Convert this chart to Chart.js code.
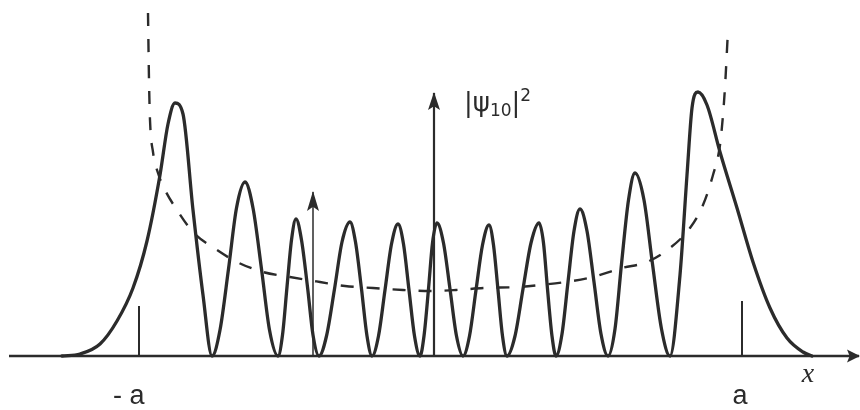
<!DOCTYPE html>
<html>
<head>
<meta charset="utf-8">
<script src="https://cdn.jsdelivr.net/npm/chart.js@4.4.1/dist/chart.umd.min.js"></script>
<style>
  html, body { margin: 0; padding: 0; background: #ffffff; }
  #wrap { width: 860px; height: 410px; }
</style>
</head>
<body>
<div id="wrap"><canvas id="c" width="860" height="410"></canvas></div>
<script>
// ---- data (arbitrary units; x = 0 at the |psi|^2 axis) ----
// |psi_10|^2 curve: positions and heights
const psiX = [-7.44,-7.08,-6.68,-6.34,-6.02,-5.74,-5.48,-5.32,-5.18,-5.02,-4.82,-4.62,-4.44,
  -4.28,-4.11,-3.95,-3.78,-3.62,-3.45,-3.29,-3.12,
  -3.03,-2.94,-2.85,-2.76,-2.65,-2.53,-2.42,-2.30,
  -2.15,-1.99,-1.84,-1.68,-1.57,-1.45,-1.34,-1.24,
  -1.11,-0.98,-0.85,-0.72,-0.61,-0.50,-0.39,-0.28,
  -0.20,-0.11,-0.03,0.06,0.19,0.32,0.45,0.58,
  0.71,0.84,0.97,1.10,1.19,1.28,1.37,1.46,
  1.62,1.78,1.94,2.10,2.19,2.27,2.36,2.44,
  2.56,2.68,2.80,2.92,3.06,3.20,3.34,3.48,
  3.62,3.75,3.89,4.02,4.20,4.37,4.55,4.72,
  4.92,5.06,5.16,5.28,5.46,5.72,6.06,6.38,6.72,7.06,7.38,7.56];
const psiY = [0,0.02,0.12,0.35,0.68,1.15,1.81,2.32,2.53,2.42,1.46,0.61,0,
  0.26,0.87,1.48,1.74,1.48,0.87,0.26,0,
  0.21,0.69,1.16,1.37,1.16,0.69,0.21,0,
  0.20,0.67,1.14,1.34,1.14,0.67,0.20,0,
  0.20,0.66,1.12,1.32,1.12,0.66,0.20,0,
  0.20,0.67,1.13,1.33,1.13,0.67,0.20,0,
  0.20,0.66,1.11,1.31,1.11,0.66,0.20,0,
  0.20,0.67,1.13,1.33,1.13,0.67,0.20,0,
  0.22,0.74,1.25,1.47,1.25,0.74,0.22,0,
  0.27,0.92,1.56,1.83,1.56,0.92,0.27,0,
  0.81,1.81,2.48,2.64,2.51,2.04,1.48,0.94,0.48,0.18,0.04,0];

// classical probability (dashed)
const classicalX = [-5.72,-5.70,-5.68,-5.62,-5.52,-5.38,-5.14,-4.82,-4.34,-3.94,-3.42,-2.88,-2.28,-1.78,-1.22,-0.62,-0.08,
  0.44,1.00,1.68,2.12,2.64,3.18,3.76,4.26,4.72,5.12,5.38,5.58,5.72,5.78,5.82,5.88];
const classicalY = [3.43,2.76,2.36,2.04,1.83,1.66,1.46,1.24,1.06,0.94,0.84,0.79,0.74,0.70,0.68,0.66,0.65,
  0.66,0.68,0.69,0.71,0.74,0.79,0.88,0.94,1.08,1.28,1.51,1.81,2.11,2.41,2.69,3.26];

// turning-point ticks and their labels
const tickValues = [-5.90, 6.16];
const tickHeights = [0.50, 0.55];
const tickLabels = ['- a', 'a'];

// axes / arrows
const xAxisRange = [-8.50, 8.50];
const yArrowTop = 2.63;
const extraArrowX = -2.42;
const extraArrowTop = 1.64;
const axisTitleX = 'x';
const axisTitleY = ['|ψ', '10', '|', '2'];

// ---- drawing ----
const ink = '#2b2b2b';
const pts = (xs, ys) => xs.map((x, i) => ({ x: x, y: ys[i] }));
const seg = (x0, y0, x1, y1) => [{ x: x0, y: y0 }, { x: x1, y: y1 }];

const datasets = [
  { label: 'psi', data: pts(psiX, psiY), borderColor: ink, borderWidth: 3.3,
    cubicInterpolationMode: 'monotone', borderJoinStyle: 'round', borderCapStyle: 'round' },
  { label: 'classical', data: pts(classicalX, classicalY), borderColor: ink, borderWidth: 2.4,
    borderDash: [13, 13], cubicInterpolationMode: 'monotone' },
  { label: 'xaxis', data: seg(xAxisRange[0], 0, xAxisRange[1], 0), borderColor: ink, borderWidth: 2.4,
    arrowHead: { len: 12, half: 6.5 } },
  { label: 'yaxis', data: seg(0, 0, 0, yArrowTop), borderColor: ink, borderWidth: 2.2,
    arrowHead: { len: 17, half: 6 } },
  { label: 'arrow2', data: seg(extraArrowX, 0, extraArrowX, extraArrowTop), borderColor: ink, borderWidth: 1.5,
    arrowHead: { len: 19, half: 6 } }
];
tickValues.forEach((v, i) => {
  datasets.push({ label: 'tick' + i, data: seg(v, 0, v, tickHeights[i]), borderColor: ink, borderWidth: 2 });
});
datasets.forEach(d => { d.pointRadius = 0; d.fill = false; });

const decor = {
  id: 'decor',
  beforeDraw(chart) {
    const ctx = chart.ctx;
    ctx.save();
    ctx.fillStyle = '#ffffff';
    ctx.fillRect(0, 0, chart.width, chart.height);
    ctx.restore();
  },
  afterDatasetsDraw(chart) {
    const ctx = chart.ctx;
    const xs = chart.scales.x, ys = chart.scales.y;
    ctx.save();
    ctx.fillStyle = ink;
    // arrow heads
    chart.data.datasets.forEach((ds, i) => {
      if (!ds.arrowHead) return;
      const el = chart.getDatasetMeta(i).data;
      const p1 = el[el.length - 1], p0 = el[el.length - 2];
      const ang = Math.atan2(p1.y - p0.y, p1.x - p0.x);
      const { len, half } = ds.arrowHead;
      ctx.save();
      ctx.translate(p1.x, p1.y);
      ctx.rotate(ang);
      ctx.beginPath();
      ctx.moveTo(1, 0);
      ctx.lineTo(-len, -half);
      ctx.lineTo(-len * 0.78, 0);
      ctx.lineTo(-len, half);
      ctx.closePath();
      ctx.fill();
      ctx.restore();
    });
    const axisY = ys.getPixelForValue(0);
    // x title
    ctx.font = 'italic 28px "Liberation Serif", "DejaVu Serif", serif';
    ctx.textAlign = 'center';
    ctx.textBaseline = 'alphabetic';
    ctx.fillText(axisTitleX, xs.getPixelForValue(xAxisRange[1]) - 51, axisY + 26);
    // tick labels
    ctx.font = '27px "Liberation Sans", Arial, sans-serif';
    tickValues.forEach((v, i) => {
      const px = xs.getPixelForValue(v) - 2;
      const aw = ctx.measureText('a').width;
      ctx.textAlign = 'right';
      ctx.fillText(tickLabels[i], px + aw / 2, axisY + 48);
    });
    // y title |psi_10|^2
    const x0 = xs.getPixelForValue(0);
    const base = ys.getPixelForValue(yArrowTop) + 18;
    const big = '26px "DejaVu Sans", "Liberation Sans", sans-serif';
    const small = '17px "DejaVu Sans", "Liberation Sans", sans-serif';
    ctx.textAlign = 'left';
    let cx = x0 + 30;
    ctx.font = big; ctx.fillText(axisTitleY[0], cx, base); cx += ctx.measureText(axisTitleY[0]).width;
    ctx.font = small; ctx.fillText(axisTitleY[1], cx, base + 5); cx += ctx.measureText(axisTitleY[1]).width;
    ctx.font = big; ctx.fillText(axisTitleY[2], cx, base); cx += ctx.measureText(axisTitleY[2]).width;
    ctx.font = small; ctx.fillText(axisTitleY[3], cx, base - 10);
    ctx.restore();
  }
};

new Chart(document.getElementById('c'), {
  type: 'line',
  data: { datasets: datasets },
  options: {
    responsive: false,
    animation: false,
    devicePixelRatio: 1,
    layout: { padding: 0 },
    scales: {
      x: { type: 'linear', min: -8.68, max: 8.52, display: false },
      y: { type: 'linear', min: -0.54, max: 3.56, display: false }
    },
    plugins: { legend: { display: false }, tooltip: { enabled: false } },
    elements: { line: { tension: 0 } }
  },
  plugins: [decor]
});
</script>
</body>
</html>
